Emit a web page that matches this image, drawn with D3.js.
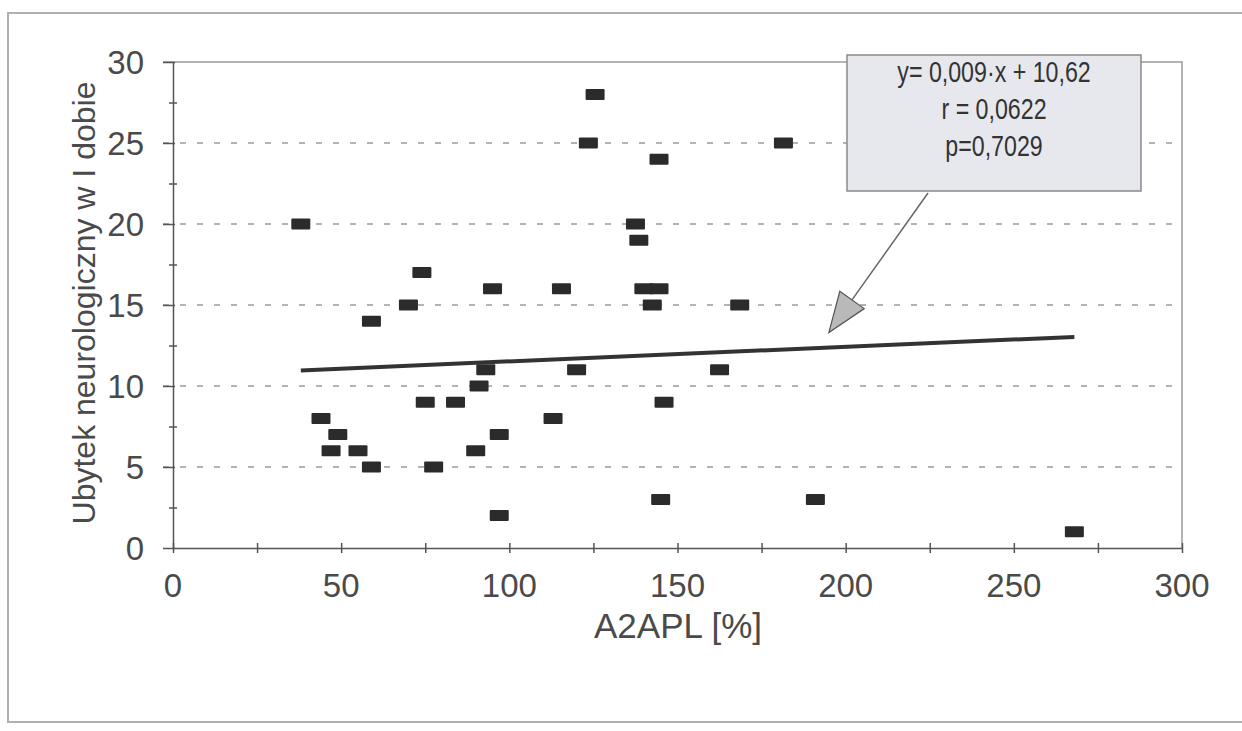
<!DOCTYPE html>
<html>
<head>
<meta charset="utf-8">
<script src="https://cdn.jsdelivr.net/npm/d3@7"></script>
<style>
    body { margin: 0; background: #fff; }
    svg text { font-family: "Liberation Sans", Arial, sans-serif; fill: #4a4a4a; }
    .box-text { fill: #333; }
</style>
</head>
<body>
<svg id="chart" width="1242" height="731"></svg>
<script>
// values
var a2apl = [38, 44, 47, 49, 55, 59, 59, 70, 74, 75, 77.5, 84, 90, 91, 93, 95, 97, 97, 113, 115.5, 120, 123.5,
    125.5, 137.5, 138.5, 140, 142.5, 144.5, 144.5, 145, 146, 162.5, 168.5, 181.5, 191, 268];
var ubytek = [20, 8, 6, 7, 6, 5, 14, 15, 17, 9, 5, 9, 6, 10, 11, 16, 7, 2, 8, 16, 11, 25,
    28, 20, 19, 16, 15, 24, 16, 3, 9, 11, 15, 25, 3, 1];

var xTicks = [0, 50, 100, 150, 200, 250, 300];
var yTicks = [0, 5, 10, 15, 20, 25, 30];
var gridLines = [5, 10, 15, 20, 25];

var slope = 0.009, intercept = 10.62;
var statLines = ["y= 0,009·x + 10,62", "r = 0,0622", "p=0,7029"];
var arrowTip = [195, 13.3];

var xTitle = "A2APL [%]";
var yTitle = "Ubytek neurologiczny w I dobie";

function drawChart() {
    var svg = d3.select("#chart");
    var pLeft = 173, pRight = 1182, pTop = 62, pBottom = 548;

    var x = d3.scaleLinear().domain([0, 300]).range([pLeft, pRight]);
    var y = d3.scaleLinear().domain([0, 30]).range([pBottom, pTop]);

    // outer frame of the figure
    svg.append("rect")
        .attr("x", 8).attr("y", 13)
        .attr("width", 1260).attr("height", 709)
        .attr("fill", "none").attr("stroke", "#b0b0b0").attr("stroke-width", 2);

    // plot border (top + right)
    svg.append("path")
        .attr("d", "M" + (pLeft - 10) + "," + pTop + "H" + pRight + "V" + pBottom)
        .attr("fill", "none").attr("stroke", "#9a9a9a").attr("stroke-width", 1.5);

    // dashed gridlines
    svg.append("g").selectAll("line")
        .data(gridLines)
        .enter().append("line")
        .attr("x1", pLeft - 10).attr("x2", pRight)
        .attr("y1", function (d) { return y(d); })
        .attr("y2", function (d) { return y(d); })
        .attr("stroke", "#9a9a9a").attr("stroke-width", 1.5)
        .attr("stroke-dasharray", "6,11");

    // minor ticks every 2.5 / 25, crossing the axis
    var yMinor = d3.range(0, 30.01, 2.5);
    var xMinor = d3.range(0, 300.01, 25);

    var yAxis = svg.append("g")
        .attr("transform", "translate(" + pLeft + ",0)")
        .call(d3.axisLeft(y).tickValues(yMinor).tickSizeOuter(0).tickFormat(""));
    yAxis.selectAll(".tick line")
        .attr("x1", function (d) { return d % 5 === 0 ? 2 : 4; })
        .attr("x2", function (d) { return d % 5 === 0 ? -10 : -4; });

    var xAxis = svg.append("g")
        .attr("transform", "translate(0," + pBottom + ")")
        .call(d3.axisBottom(x).tickValues(xMinor).tickSizeOuter(0).tickFormat(""));
    xAxis.selectAll(".tick line").attr("y1", -5).attr("y2", 5);

    svg.selectAll(".domain, .tick line").attr("stroke", "#555").attr("stroke-width", 1.5);

    // tick labels
    svg.append("g").selectAll("text")
        .data(yTicks)
        .enter().append("text")
        .attr("x", 144)
        .attr("y", function (d) { return y(d) + 12; })
        .attr("text-anchor", "end")
        .attr("font-size", 33)
        .text(function (d) { return d; });

    svg.append("g").selectAll("text")
        .data(xTicks)
        .enter().append("text")
        .attr("x", function (d) { return x(d); })
        .attr("y", 597)
        .attr("text-anchor", "middle")
        .attr("font-size", 33)
        .text(function (d) { return d; });

    // axis titles
    svg.append("text")
        .attr("x", 678).attr("y", 638)
        .attr("text-anchor", "middle")
        .attr("font-size", 35)
        .text(xTitle);

    svg.append("text")
        .attr("transform", "translate(95,303)rotate(-90)")
        .attr("text-anchor", "middle")
        .attr("font-size", 32)
        .text(yTitle);

    // regression line over the data range
    var xr = d3.extent(a2apl);
    svg.append("line")
        .attr("x1", x(xr[0])).attr("y1", y(slope * xr[0] + intercept))
        .attr("x2", x(xr[1])).attr("y2", y(slope * xr[1] + intercept))
        .attr("stroke", "#333").attr("stroke-width", 4);

    // points
    svg.append("g").selectAll("rect")
        .data(a2apl)
        .enter().append("rect")
        .attr("x", function (d) { return x(d) - 9.5; })
        .attr("y", function (d, i) { return y(ubytek[i]) - 5.5; })
        .attr("width", 19).attr("height", 11)
        .attr("rx", 1)
        .attr("fill", "#2b2b2b");

    // annotation box with the fit statistics
    var box = { x: 847, y: 55, w: 294, h: 136 };
    svg.append("rect")
        .attr("x", box.x).attr("y", box.y)
        .attr("width", box.w).attr("height", box.h)
        .attr("fill", "#e7e8ed").attr("stroke", "#8a8a8a").attr("stroke-width", 1.5);

    // narrow face: squeeze regular sans horizontally
    svg.append("g").selectAll("text")
        .data(statLines)
        .enter().append("text")
        .attr("class", "box-text")
        .attr("transform", function (d, i) {
            return "translate(" + (box.x + box.w / 2) + "," + (82 + i * 37) + ")scale(0.8,1)";
        })
        .attr("text-anchor", "middle")
        .attr("font-size", 29)
        .text(function (d) { return d; });

    // arrow from the box to the regression line
    var start = [928, 193];
    var tip = [x(arrowTip[0]), y(arrowTip[1])];
    var dx = tip[0] - start[0], dy = tip[1] - start[1];
    var len = Math.sqrt(dx * dx + dy * dy);
    var ux = dx / len, uy = dy / len;
    var headLen = 40, headHalf = 15;
    var base = [tip[0] - ux * headLen, tip[1] - uy * headLen];

    svg.append("line")
        .attr("x1", start[0]).attr("y1", start[1])
        .attr("x2", base[0]).attr("y2", base[1])
        .attr("stroke", "#666").attr("stroke-width", 1.5);

    svg.append("path")
        .attr("d", "M" + tip[0] + "," + tip[1] +
            "L" + (base[0] - uy * headHalf) + "," + (base[1] + ux * headHalf) +
            "L" + (base[0] + uy * headHalf) + "," + (base[1] - ux * headHalf) + "Z")
        .attr("fill", "#b9b9b9").attr("stroke", "#555").attr("stroke-width", 1.2);
}

drawChart();
</script>
</body>
</html>
